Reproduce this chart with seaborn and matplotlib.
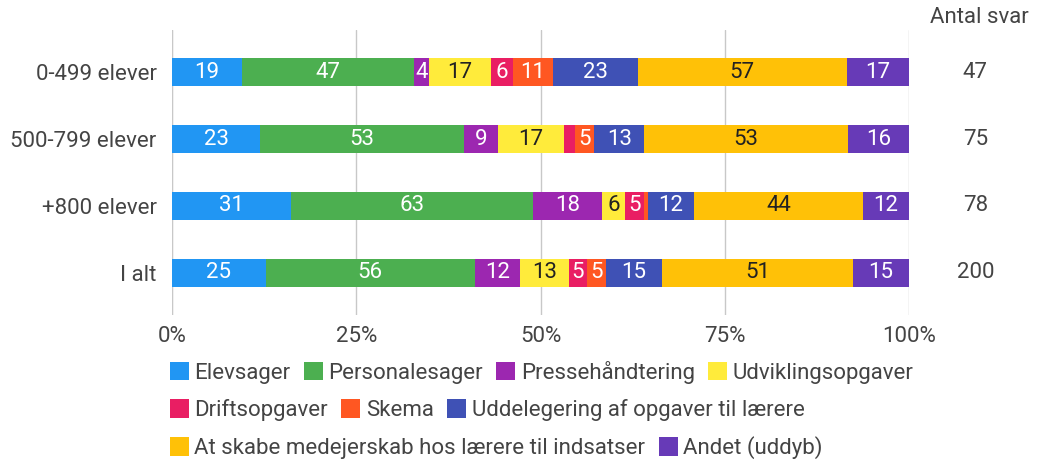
import matplotlib
matplotlib.use('Agg')
import matplotlib.pyplot as plt
import seaborn as sns
import pandas as pd
import numpy as np
from matplotlib.patches import Patch

# =====================
# DATA
# =====================
groups = ['0-499 elever', '500-799 elever', '+800 elever', 'I alt']
antal_svar = [47, 75, 78, 200]

categories = ['Elevsager', 'Personalesager', 'Pressehåndtering', 'Udviklingsopgaver',
              'Driftsopgaver', 'Skema', 'Uddelegering af opgaver til lærere',
              'At skabe medejerskab hos lærere til indsatser', 'Andet (uddyb)']

elevsager         = [19, 23, 31, 25]
personalesager    = [47, 53, 63, 56]
pressehaandtering = [4, 9, 18, 12]
udvikling         = [17, 17, 6, 13]
drift             = [6, 3, 5, 5]
skema             = [11, 5, 1, 5]
uddelegering      = [23, 13, 12, 15]
medejerskab       = [57, 53, 44, 51]
andet             = [17, 16, 12, 15]

colors = ['#2196F3', '#4CAF50', '#9C27B0', '#FFEB3B', '#E91E63',
          '#FF5722', '#3F51B5', '#FFC107', '#673AB7']
dark_text = {'Udviklingsopgaver', 'At skabe medejerskab hos lærere til indsatser'}

# =====================
# SETUP
# =====================
sns.set_theme(style='white')
plt.rcParams['font.family'] = ['Roboto', 'DejaVu Sans']
TXT = '#444444'
FS = 16

df = pd.DataFrame({
    categories[0]: elevsager, categories[1]: personalesager,
    categories[2]: pressehaandtering, categories[3]: udvikling,
    categories[4]: drift, categories[5]: skema, categories[6]: uddelegering,
    categories[7]: medejerskab, categories[8]: andet,
}, index=groups)
pct = df.div(df.sum(axis=1), axis=0) * 100
cum = pct.cumsum(axis=1)

fig = plt.figure(figsize=(10.42, 4.61), dpi=100)
ax = fig.add_axes([172 / 1042, 1 - 315 / 461, 737 / 1042, 285 / 461])

# stacked: draw cumulative totals from the back
for cat, col in reversed(list(zip(categories, colors))):
    sns.barplot(x=cum[cat].values, y=groups, orient='h', color=col,
                width=0.42, ax=ax, saturation=1, linewidth=0)

# segment labels
for i, g in enumerate(groups):
    for cat in categories:
        v = df.loc[g, cat]
        if v < 4:
            continue
        mid = cum.loc[g, cat] - pct.loc[g, cat] / 2
        ax.text(mid, i, str(v), ha='center', va='center', fontsize=FS,
                color='#222222' if cat in dark_text else 'white')

ax.set_xlim(0, 100)
ax.set_ylim(3.627, -0.627)
ax.set_xticks([0, 25, 50, 75, 100])
ax.set_xticklabels(['0%', '25%', '50%', '75%', '100%'])
ax.set_xlabel('')
ax.set_ylabel('')
ax.tick_params(axis='both', labelsize=FS, colors=TXT, length=0)
ax.tick_params(axis='y', pad=11)
ax.tick_params(axis='x', pad=8)
for s in ax.spines.values():
    s.set_visible(False)
ax.xaxis.grid(True, color='#c8c8c8', lw=1)
ax.set_axisbelow(True)
ax.axvline(0, color='#999999', lw=1.5, zorder=0.5)

# Antal svar column
ax.text(1.096, 1.045, 'Antal svar', transform=ax.transAxes, ha='center',
        va='center', fontsize=FS, color=TXT)
for i, n in enumerate(antal_svar):
    ax.text(1.09, i, str(n), transform=ax.get_yaxis_transform(),
            ha='center', va='center', fontsize=FS, color=TXT)

# legend rows
rows = [categories[0:4], categories[4:7], categories[7:9]]
ys = [372, 410, 448]
for r, yy in zip(rows, ys):
    handles = [Patch(facecolor=colors[categories.index(c)], edgecolor='none')
               for c in r]
    leg = fig.legend(handles, r, loc='center left',
                     bbox_to_anchor=(170 / 1042, 1 - yy / 461), ncol=len(r),
                     frameon=False, fontsize=FS, handlelength=0.85,
                     handleheight=0.9, handletextpad=0.25, columnspacing=0.6,
                     borderaxespad=0, borderpad=0)
    for t in leg.get_texts():
        t.set_color(TXT)

fig.savefig('out.png', dpi=100)
